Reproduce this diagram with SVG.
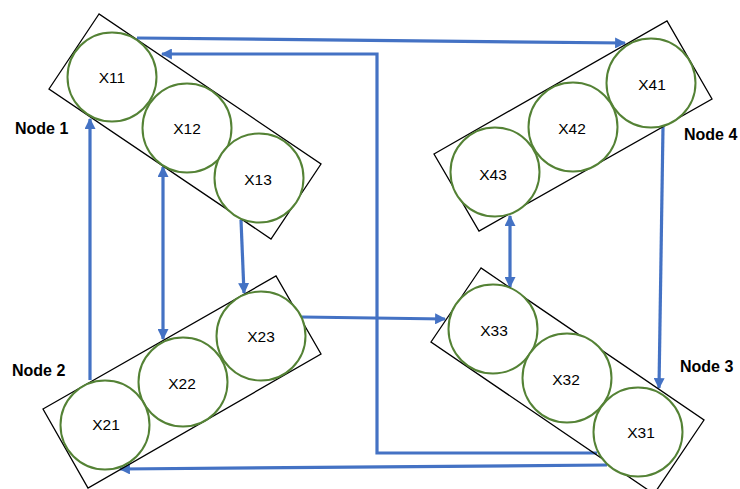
<svg xmlns="http://www.w3.org/2000/svg" width="740" height="489" viewBox="0 0 740 489">
<style>
.box{fill:none;stroke:#000;stroke-width:1.3}
.c{fill:#fff;stroke:#548235;stroke-width:2}
.t{font-family:"Liberation Sans",Arial,sans-serif;font-size:15.5px;fill:#000;text-anchor:middle;dominant-baseline:central}
.lbl{font-family:"Liberation Sans",Arial,sans-serif;font-size:16px;font-weight:bold;fill:#000;dominant-baseline:central}
.e{fill:none;stroke:#4472C4;stroke-width:3.2}
</style>
<defs>
<marker id="ah" viewBox="0 0 10 10" refX="9" refY="5" markerWidth="11" markerHeight="11" markerUnits="userSpaceOnUse" orient="auto-start-reverse">
<path d="M0,0 L10,5 L0,10 Z" fill="#4472C4"/>
</marker>
</defs>
<rect width="740" height="489" fill="#fff"/>
<g id="connectors">
<path class="e" d="M137,38 L625,43" marker-end="url(#ah)"/>
<path class="e" d="M597,453 L377,453 L377,54 L162,54" marker-end="url(#ah)"/>
<path class="e" d="M607,465 L120,469" marker-end="url(#ah)"/>
<path class="e" d="M90,380 L90,119" marker-end="url(#ah)"/>
<path class="e" d="M163,167 L163,339" marker-start="url(#ah)" marker-end="url(#ah)"/>
<path class="e" d="M241,220 L244,293" marker-end="url(#ah)"/>
<path class="e" d="M302,317 L445,319" marker-end="url(#ah)"/>
<path class="e" d="M510,216 L510,287" marker-start="url(#ah)" marker-end="url(#ah)"/>
<path class="e" d="M663,127 L659,388" marker-end="url(#ah)"/>
</g>
<g id="node1">
<polygon class="box" points="99,14 49,89 271,239 321,164"/>
<g id="X11"><circle class="c" cx="112" cy="77" r="44.5"/><text class="t" x="112" y="77">X11</text></g>
<g id="X12"><circle class="c" cx="187" cy="128" r="44.5"/><text class="t" x="187" y="128">X12</text></g>
<g id="X13"><circle class="c" cx="259" cy="178" r="44.5"/><text class="t" x="258" y="179">X13</text></g>
<text class="lbl" x="15" y="128">Node 1</text>
</g>
<g id="node4">
<polygon class="box" points="434,154 667,21 712,99 479,231"/>
<g id="X41"><circle class="c" cx="651" cy="83" r="44.5"/><text class="t" x="652" y="84">X41</text></g>
<g id="X42"><circle class="c" cx="573" cy="127" r="44.5"/><text class="t" x="572" y="128">X42</text></g>
<g id="X43"><circle class="c" cx="495" cy="172" r="44.5"/><text class="t" x="493" y="174">X43</text></g>
<text class="lbl" x="684" y="134">Node 4</text>
</g>
<g id="node2">
<polygon class="box" points="43,409 276,276 321,354 88,488"/>
<g id="X23"><circle class="c" cx="261" cy="336" r="44.5"/><text class="t" x="261" y="336">X23</text></g>
<g id="X22"><circle class="c" cx="183" cy="382" r="44.5"/><text class="t" x="182" y="383">X22</text></g>
<g id="X21"><circle class="c" cx="105" cy="425" r="44.5"/><text class="t" x="106" y="424">X21</text></g>
<text class="lbl" x="12" y="370">Node 2</text>
</g>
<g id="node3">
<polygon class="box" points="481,268 431,342 654,494 704,420"/>
<g id="X33"><circle class="c" cx="493" cy="329" r="44.5"/><text class="t" x="494" y="330">X33</text></g>
<g id="X32"><circle class="c" cx="567" cy="378" r="44.5"/><text class="t" x="566" y="379">X32</text></g>
<g id="X31"><circle class="c" cx="638" cy="432" r="44.5"/><text class="t" x="641" y="432">X31</text></g>
<text class="lbl" x="680" y="366">Node 3</text>
</g>
</svg>
